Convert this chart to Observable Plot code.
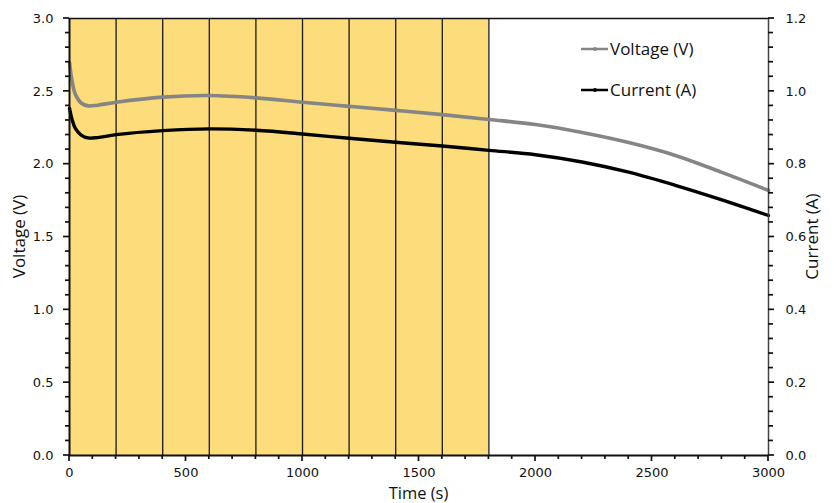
<!DOCTYPE html>
<html>
<head>
<meta charset="utf-8">
<script src="https://cdn.jsdelivr.net/npm/d3@7"></script>
<script src="https://cdn.jsdelivr.net/npm/@observablehq/plot@0.6"></script>
<style>
  html, body { margin: 0; padding: 0; background: #fff; }
  #chart { position: relative; width: 835px; height: 503px; }
</style>
</head>
<body>
<div id="chart"></div>
<script>
// ---- data ----
const time =     [0,    10,   25,   50,   80,   120,   200,   400,  600,   800,   1000,  1200,  1400,  1600, 1800,  2000,  2200,  2400,  2600,  2800,  3000];
const voltage =  [2.70, 2.58, 2.48, 2.42, 2.40, 2.405, 2.425, 2.46, 2.471, 2.455, 2.425, 2.397, 2.369, 2.34, 2.307, 2.272, 2.217, 2.148, 2.06,  1.944, 1.82];
const current =  [0.953,0.925,0.898,0.880,0.872,0.873,0.881, 0.892,0.897, 0.893, 0.883, 0.871, 0.860, 0.850,0.838, 0.826, 0.806, 0.778, 0.742, 0.702, 0.659];
const shadeStart = 0, shadeEnd = 1800;
const dividers = [200, 400, 600, 800, 1000, 1200, 1400, 1600, 1800];
const xMajorTicks = [0, 500, 1000, 1500, 2000, 2500, 3000];
const xMinorTicks = d3.range(0, 3001, 100);
const yMajorTicks = [0, 0.5, 1.0, 1.5, 2.0, 2.5, 3.0];
const yMinorTicks = d3.range(0, 31, 1).map(v => v / 10);
const ampsPerVolt = 1.2 / 3.0; // right axis 0–1.2 A vs left 0–3.0 V
const seriesNames = ["Voltage (V)", "Current (A)"];
const seriesColors = ["#858585", "#000000"];

const vData = time.map((t, i) => ({t, v: voltage[i]}));
const cData = time.map((t, i) => ({t, v: current[i] / ampsPerVolt}));

const W = 835, H = 503;
const mL = 69, mR = 67, mT = 18, mB = 48;

const tickFont = "DejaVu Sans, sans-serif";

const plot = Plot.plot({
  width: W, height: H,
  marginLeft: mL, marginRight: mR, marginTop: mT, marginBottom: mB,
  style: {background: "#fff", fontFamily: tickFont, fontSize: "13px", color: "#111"},
  x: {domain: [0, 3000]},
  y: {domain: [0, 3.0]},
  marks: [
    Plot.rect([{x1: shadeStart, x2: shadeEnd}], {x1: "x1", x2: "x2", y1: 0, y2: 3.0, fill: "#fddc7b"}),
    Plot.ruleX(dividers, {stroke: "#1a1a1a", strokeWidth: 1.3}),
    Plot.ruleY([3.0], {stroke: "#111", strokeWidth: 1.5}),
    Plot.axisX(xMajorTicks, {tickSize: 5, tickPadding: 7, tickFormat: d => String(d), label: null, stroke: "none", fill: "#111"}),
    Plot.axisY(yMajorTicks, {anchor: "left", tickSize: 6, tickPadding: 10, tickFormat: d => d.toFixed(1), label: null, stroke: "none", fill: "#111"}),
    Plot.axisY(yMajorTicks, {anchor: "right", tickSize: 6, tickPadding: 11, tickFormat: d => (d * ampsPerVolt).toFixed(1), label: null, stroke: "none", fill: "#111"}),
    Plot.line(vData, {x: "t", y: "v", stroke: seriesColors[0], strokeWidth: 3.6, curve: "catmull-rom"}),
    Plot.line(cData, {x: "t", y: "v", stroke: seriesColors[1], strokeWidth: 3.4, curve: "catmull-rom"}),
    Plot.ruleX([0], {stroke: "#111", strokeWidth: 2}),
    Plot.ruleX([3000], {stroke: "#444", strokeWidth: 1.5}),
    Plot.ruleY([0], {stroke: "#111", strokeWidth: 2.2})
  ]
});

document.getElementById("chart").appendChild(plot);

const svg = d3.select(plot);
const xs = plot.scale("x"), ys = plot.scale("y");
const bottom = H - mB, left = mL, right = W - mR;

// tick marks through Plot's scales
const tg = svg.append("g").attr("stroke", "#111").attr("stroke-width", 1.7);
xMinorTicks.forEach(t => {
  const x = xs.apply(t), len = xMajorTicks.includes(t) ? 6 : 4;
  tg.append("line").attr("x1", x).attr("x2", x).attr("y1", bottom).attr("y2", bottom + len);
});
yMinorTicks.forEach(v => {
  const y = ys.apply(v), major = yMajorTicks.some(m => Math.abs(m - v) < 1e-9);
  tg.append("line").attr("x1", left).attr("x2", left - (major ? 6 : 4)).attr("y1", y).attr("y2", y);
  tg.append("line").attr("x1", right).attr("x2", right + (major ? 6 : 5)).attr("y1", y).attr("y2", y);
});

const titleFont = "'Open Sans', sans-serif";
svg.append("text")
  .attr("x", left + (right - left) / 2).attr("y", 498.5)
  .attr("text-anchor", "middle").attr("font-family", titleFont).attr("font-size", 16.5).attr("fill", "#111")
  .text("Time (s)");
svg.append("text")
  .attr("transform", `translate(25,${mT + (bottom - mT) / 2}) rotate(-90)`)
  .attr("text-anchor", "middle").attr("font-family", titleFont).attr("font-size", 17).attr("fill", "#111")
  .text("Voltage (V)");
svg.append("text")
  .attr("transform", `translate(818,${mT + (bottom - mT) / 2}) rotate(-90)`)
  .attr("text-anchor", "middle").attr("font-family", titleFont).attr("font-size", 17).attr("fill", "#111")
  .text("Current (A)");

const legend = svg.append("g");
seriesNames.forEach((name, i) => {
  const y = 49 + i * 41;
  legend.append("line").attr("x1", 581).attr("x2", 608).attr("y1", y).attr("y2", y)
    .attr("stroke", seriesColors[i]).attr("stroke-width", 2.5);
  legend.append("circle").attr("cx", 595).attr("cy", y).attr("r", 2).attr("fill", seriesColors[i]);
  legend.append("text").attr("x", 610).attr("y", y).attr("dy", "0.35em")
    .attr("text-anchor", "start")
    .attr("font-family", titleFont).attr("font-size", 17).attr("fill", "#111").text(name);
});
</script>
</body>
</html>
